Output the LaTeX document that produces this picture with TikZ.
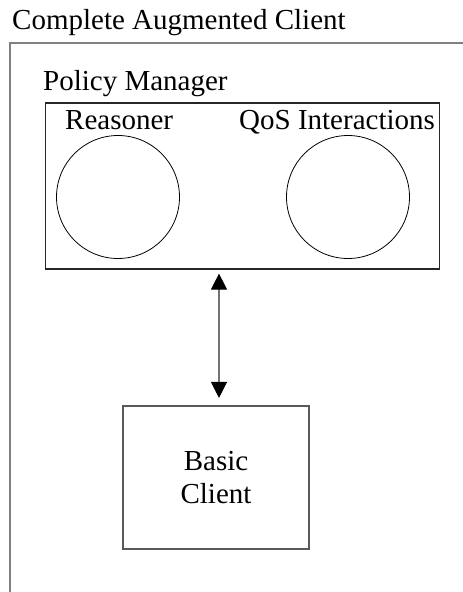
\documentclass[tikz,border=0pt]{standalone}
\usepackage{fontspec}
\setmainfont{Liberation Serif}
\usetikzlibrary{arrows.meta}
\begin{document}
\begin{tikzpicture}[x=1pt,y=-1pt,
  lbl/.style={inner sep=0pt,anchor=base west,font=\fontsize{29}{33}\selectfont},
  frame/.style={draw=black!50,line width=1.8pt},
  pmbox/.style={draw=black!85,line width=1.2pt,minimum width=394pt,minimum height=166pt,inner sep=0pt},
  part/.style={circle,draw=black,line width=0.8pt,minimum size=123pt,inner sep=0pt},
  clientbox/.style={draw=black!65,line width=1.6pt,minimum width=186pt,minimum height=143.5pt,inner sep=0pt,
    align=center,font=\fontsize{29}{33}\selectfont},
  link/.style={draw=black!55,line width=1.2pt,{Triangle[width=16pt,length=16pt,color=black]}-{Triangle[width=16pt,length=16pt,color=black]},
    shorten <=4pt,shorten >=7pt}]
\useasboundingbox (0,0) rectangle (463,592);
\clip (0,0) rectangle (463,592);
\fill[white] (0,0) rectangle (463,592);

% outer client frame (runs past the page edge)
\node[lbl] (title) at (12,29) {Complete Augmented Client};
\draw[frame] (10,43) rectangle (480,620);

% policy manager with its two parts
\node[lbl] (pmlabel) at (43,90) {Policy Manager};
\node[pmbox] (pm) at (242.5,186) {};
\node[lbl] (rlabel) at (65,129) {Reasoner};
\node[lbl] (qlabel) at (239,129) {QoS Interactions};
\node[part] (reasoner) at (118,197) {};
\node[part] (qos) at (348,197) {};

% basic client
\node[clientbox] (basic) at (216,477.5) {Basic\\Client};

% two-way link between the manager and the client
\coordinate (ax) at (219,0);
\draw[link] (pm.south -| ax) -- (basic.north -| ax);
\end{tikzpicture}
\end{document}
